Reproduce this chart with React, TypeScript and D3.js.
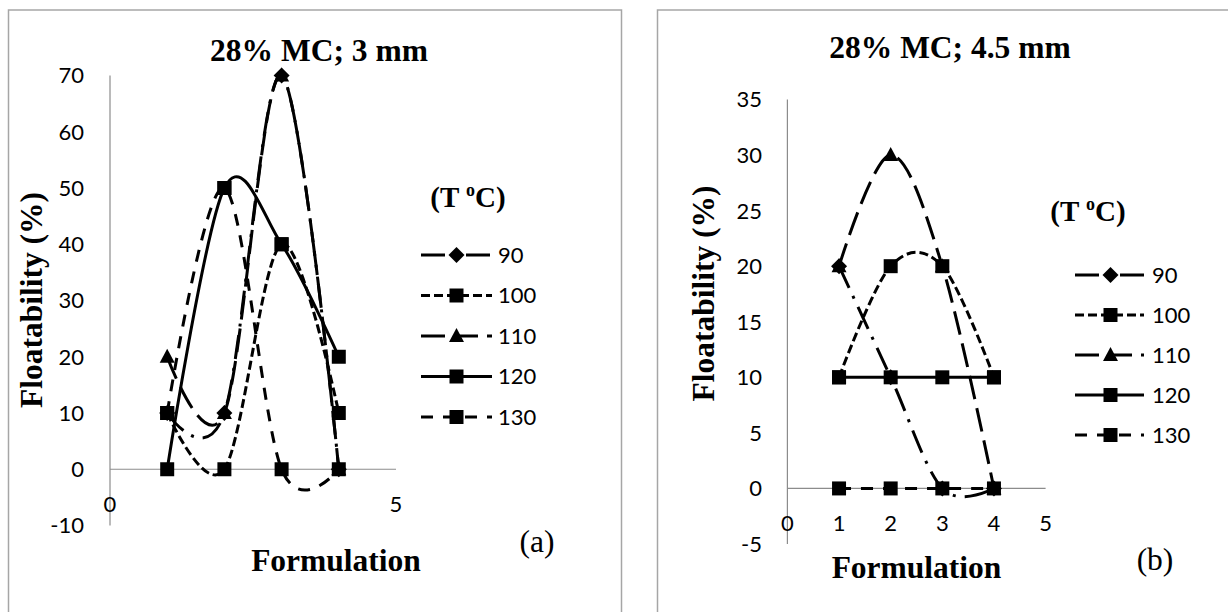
import React from 'react';
import * as d3 from 'd3';

// ---------- DATA ----------
const formulations = [1, 2, 3, 4];
const seriesNames = ['90', '100', '110', '120', '130'];

// Panel (a): 28% MC; 3 mm
const a90 = [10, 10, 70, 0];
const a100 = [10, 0, 40, 10];
const a110 = [20, 10, 70, 0];
const a120 = [0, 50, 40, 20];
const a130 = [10, 50, 0, 0];

// Panel (b): 28% MC; 4.5 mm
const b90 = [20, 10, 0, 0];
const b100 = [10, 20, 20, 10];
const b110 = [20, 30, 20, 0];
const b120 = [10, 10, 10, 10];
const b130 = [0, 0, 0, 0];

const aYTicks = [-10, 0, 10, 20, 30, 40, 50, 60, 70];
const aXTicks = [0, 5];
const bYTicks = [-5, 0, 5, 10, 15, 20, 25, 30, 35];
const bXTicks = [0, 1, 2, 3, 4, 5];

const titleA = '28% MC; 3 mm';
const titleB = '28% MC; 4.5 mm';
const yTitle = 'Floatability (%)';
const xTitle = 'Formulation';

// ---------- STYLES ----------
type MarkerKind = 'diamond' | 'square' | 'triangle';
const seriesDash: Record<string, string | undefined> = {
  '90': '24 9 3 9',
  '100': '9 4',
  '110': '24 9',
  '120': undefined,
  '130': '12 10',
};
const seriesMarker: Record<string, MarkerKind> = {
  '90': 'diamond',
  '100': 'square',
  '110': 'triangle',
  '120': 'square',
  '130': 'square',
};

const SERIF = '"Liberation Serif", "Times New Roman", serif';
const SANS = 'Lato, "Open Sans", sans-serif';

function markerPath(kind: MarkerKind): string {
  if (kind === 'square') return 'M-7,-7H7V7H-7Z';
  if (kind === 'diamond') return 'M0,-8L8,0L0,8L-8,0Z';
  return 'M0,-8L7.5,6L-7.5,6Z';
}

interface PanelCfg {
  frameX: number;
  domainY: [number, number];
  xRange: [number, number];
  yRange: [number, number];
  yTicks: number[];
  xTicks: number[];
  values: number[][];
  title: string;
  titleX: number;
  titleY: number;
  yTitleX: number;
  yTitleY: number;
  xTitleX: number;
  xTitleY: number;
  label: string;
  labelX: number;
  labelY: number;
  tickRight: number;
  xTickY: number;
  legendTitleX: number;
  legendTitleY: number;
  legX1: number;
  legX2: number;
  legMarkX: number;
  legTextX: number;
  legY0: number;
  legStep: number;
}

function Panel({ c }: { c: PanelCfg }) {
  const x = d3.scaleLinear().domain([0, 5]).range(c.xRange);
  const y = d3.scaleLinear().domain(c.domainY).range(c.yRange);
  const line = d3
    .line<[number, number]>()
    .x((d) => x(d[0]))
    .y((d) => y(d[1]))
    .curve(d3.curveCardinal.tension(0));

  return (
    <g>
      <rect x={c.frameX} y={10} width={613} height={640} fill="#fff" stroke="#a6a6a6" strokeWidth={1.5} />
      <text x={c.titleX} y={c.titleY} textAnchor="middle" fontFamily={SERIF} fontWeight="bold" fontSize={31.5}>
        {c.title}
      </text>
      <text
        transform={`translate(${c.yTitleX},${c.yTitleY}) rotate(-90)`}
        textAnchor="middle"
        fontFamily={SERIF}
        fontWeight="bold"
        fontSize={31.5}
      >
        {yTitle}
      </text>
      <text x={c.xTitleX} y={c.xTitleY} textAnchor="middle" fontFamily={SERIF} fontWeight="bold" fontSize={31.5}>
        {xTitle}
      </text>
      <text x={c.labelX} y={c.labelY} textAnchor="middle" fontFamily={SERIF} fontSize={31.5}>
        {c.label}
      </text>

      {/* axes */}
      <line x1={x(0)} x2={x(0)} y1={y(c.domainY[0])} y2={y(c.domainY[1])} stroke="#8c8c8c" strokeWidth={1.2} />
      <line x1={x(0)} x2={x(5)} y1={y(0)} y2={y(0)} stroke="#8c8c8c" strokeWidth={1.2} />
      {c.yTicks.map((t) => (
        <text key={'y' + t} x={c.tickRight} y={y(t)} dy="0.36em" textAnchor="end" fontFamily={SANS} fontSize={22}>
          {t}
        </text>
      ))}
      {c.xTicks.map((t) => (
        <text key={'x' + t} x={x(t)} y={c.xTickY} dy="0.36em" textAnchor="middle" fontFamily={SANS} fontSize={22}>
          {t}
        </text>
      ))}

      {/* series lines */}
      {seriesNames.map((s, i) => (
        <path
          key={'l' + s}
          d={line(formulations.map((f, j) => [f, c.values[i][j]] as [number, number])) || ''}
          fill="none"
          stroke="#000"
          strokeWidth={3}
          strokeDasharray={seriesDash[s]}
        />
      ))}
      {/* markers */}
      {seriesNames.map((s, i) =>
        formulations.map((f, j) => (
          <path
            key={'m' + s + j}
            transform={`translate(${x(f)},${y(c.values[i][j])})`}
            d={markerPath(seriesMarker[s])}
            fill="#000"
          />
        ))
      )}

      {/* legend */}
      <text x={c.legendTitleX} y={c.legendTitleY} textAnchor="middle" fontFamily={SERIF} fontWeight="bold" fontSize={29}>
        (T{' '}
        <tspan fontSize={18} dy={-11}>
          o
        </tspan>
        <tspan dy={11}>C)</tspan>
      </text>
      {seriesNames.map((s, i) => {
        const ly = c.legY0 + i * c.legStep;
        return (
          <g key={'g' + s}>
            <line x1={c.legX1} x2={c.legX2} y1={ly} y2={ly} stroke="#000" strokeWidth={3} strokeDasharray={seriesDash[s]} />
            <path transform={`translate(${c.legMarkX},${ly})`} d={markerPath(seriesMarker[s])} fill="#000" />
            <text x={c.legTextX} y={ly} dy="0.36em" fontFamily={SANS} fontSize={22}>
              {s}
            </text>
          </g>
        );
      })}
    </g>
  );
}

const panelA: PanelCfg = {
  frameX: 8.5,
  domainY: [-10, 70],
  xRange: [110, 396],
  yRange: [525.5, 75.5],
  yTicks: aYTicks,
  xTicks: aXTicks,
  values: [a90, a100, a110, a120, a130],
  title: titleA,
  titleX: 319,
  titleY: 61,
  yTitleX: 42,
  yTitleY: 300,
  xTitleX: 336,
  xTitleY: 571,
  label: '(a)',
  labelX: 537,
  labelY: 552,
  tickRight: 84,
  xTickY: 504,
  legendTitleX: 468,
  legendTitleY: 207,
  legX1: 421,
  legX2: 492,
  legMarkX: 456.5,
  legTextX: 498,
  legY0: 255,
  legStep: 40.5,
};

const panelB: PanelCfg = {
  frameX: 657.5,
  domainY: [-5, 35],
  xRange: [787.4, 1045.6],
  yRange: [544, 99.5],
  yTicks: bYTicks,
  xTicks: bXTicks,
  values: [b90, b100, b110, b120, b130],
  title: titleB,
  titleX: 950,
  titleY: 58,
  yTitleX: 714,
  yTitleY: 293.5,
  xTitleX: 916.5,
  xTitleY: 578,
  label: '(b)',
  labelX: 1155,
  labelY: 570,
  tickRight: 762,
  xTickY: 523,
  legendTitleX: 1088,
  legendTitleY: 221,
  legX1: 1075,
  legX2: 1144,
  legMarkX: 1110.5,
  legTextX: 1152,
  legY0: 275,
  legStep: 40,
};

export default function App() {
  return (
    <svg
      width={1228}
      height={612}
      viewBox="0 0 1228 612"
      style={{ position: 'absolute', left: 0, top: 0, background: '#fff' }}
    >
      <rect x={0} y={0} width={1228} height={612} fill="#fff" />
      <Panel c={panelA} />
      <Panel c={panelB} />
    </svg>
  );
}
